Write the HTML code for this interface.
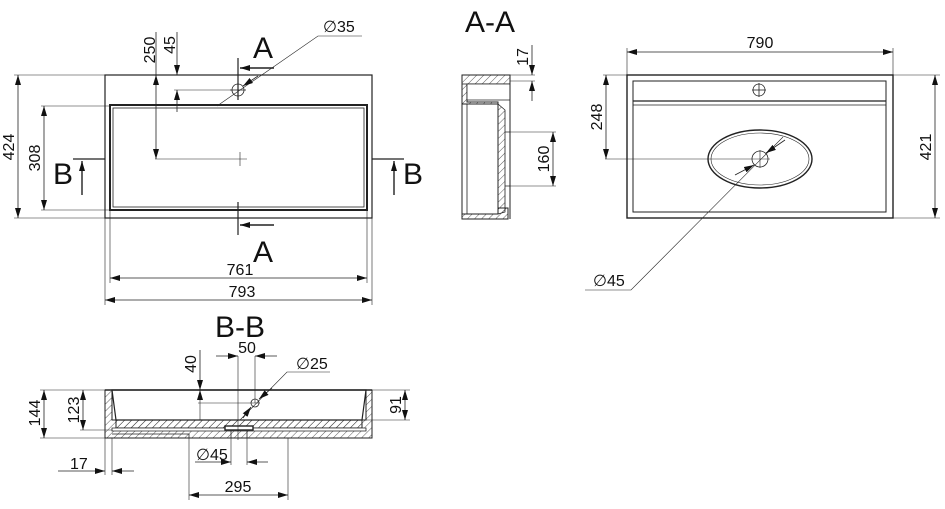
<!DOCTYPE html>
<html><head><meta charset="utf-8"><style>
html,body{margin:0;padding:0;background:#fff}
svg{display:block}
text{font-family:"Liberation Sans",sans-serif;fill:#111}
</style></head><body>
<svg width="945" height="509" viewBox="0 0 945 509" xmlns="http://www.w3.org/2000/svg">
<defs>
<pattern id="h" width="5" height="5" patternUnits="userSpaceOnUse" patternTransform="rotate(45)">
<line x1="0" y1="0" x2="0" y2="5" stroke="#333" stroke-width="0.8"/></pattern>
<marker id="a" viewBox="0 0 10 6" refX="10" refY="3" markerWidth="10" markerHeight="6" orient="auto-start-reverse" markerUnits="userSpaceOnUse">
<path d="M0,0 L10,3 L0,6 z" fill="#111"/></marker>
</defs>
<g stroke="#222" fill="none" stroke-width="0.8">
<rect x="105" y="75" width="267" height="143" stroke-width="1.2"/>
<rect x="110" y="105" width="257" height="105" stroke-width="2"/>
<rect x="113" y="108" width="251" height="99" stroke-width="0.8"/>
<circle cx="238" cy="90" r="6"/>
<line x1="230" y1="90" x2="246" y2="90"/><line x1="238" y1="82" x2="238" y2="98"/>
<line x1="155" y1="159" x2="247" y2="159" stroke-width="0.6"/>
<line x1="240" y1="152" x2="240" y2="166" stroke-width="0.6"/>
<line x1="14" y1="75" x2="105" y2="75" stroke-width="0.6"/>
<line x1="14" y1="218" x2="105" y2="218" stroke-width="0.6"/>
<line x1="18" y1="75" x2="18" y2="218" marker-start="url(#a)" marker-end="url(#a)"/>
<line x1="41" y1="106" x2="110" y2="106" stroke-width="0.6"/>
<line x1="41" y1="210" x2="110" y2="210" stroke-width="0.6"/>
<line x1="44" y1="106" x2="44" y2="210" marker-start="url(#a)" marker-end="url(#a)"/>
<line x1="156" y1="32" x2="156" y2="75"/>
<line x1="156" y1="75" x2="156" y2="159" marker-start="url(#a)" marker-end="url(#a)"/>
<line x1="177" y1="32" x2="177" y2="75" marker-end="url(#a)"/>
<line x1="177" y1="90" x2="177" y2="112" marker-start="url(#a)"/>
<line x1="174" y1="90" x2="232" y2="90" stroke-width="0.6"/>
<line x1="238" y1="58" x2="238" y2="100" stroke-width="1.2"/>
<line x1="274" y1="68" x2="240" y2="68" stroke-width="1.4" marker-end="url(#a)"/>
<line x1="238" y1="202" x2="238" y2="235" stroke-width="1.2"/>
<line x1="274" y1="225" x2="240" y2="225" stroke-width="1.4" marker-end="url(#a)"/>
<line x1="73" y1="159" x2="105" y2="159" stroke-width="1.2"/>
<line x1="82" y1="195" x2="82" y2="161" stroke-width="1.4" marker-end="url(#a)"/>
<line x1="372" y1="159" x2="404" y2="159" stroke-width="1.2"/>
<line x1="394" y1="195" x2="394" y2="161" stroke-width="1.4" marker-end="url(#a)"/>
<polyline points="217,106 318,36 362,36" stroke-width="0.6"/>
<line x1="258" y1="76" x2="243" y2="86" marker-end="url(#a)"/>
<line x1="110" y1="210" x2="110" y2="283" stroke-width="0.6"/>
<line x1="367" y1="210" x2="367" y2="283" stroke-width="0.6"/>
<line x1="105" y1="218" x2="105" y2="305" stroke-width="0.6"/>
<line x1="372" y1="218" x2="372" y2="305" stroke-width="0.6"/>
<line x1="110" y1="278" x2="367" y2="278" marker-start="url(#a)" marker-end="url(#a)"/>
<line x1="105" y1="300" x2="372" y2="300" marker-start="url(#a)" marker-end="url(#a)"/>

<path d="M462,75 H510 V84 H467 V102 H498 V208 H508 V219 H462 Z" fill="url(#h)" stroke-width="1"/>
<path d="M467,84 H510 V100 H467 Z" fill="#fff"/>
<path d="M462,104 L498,104 L498,214 L462,214 Z" fill="#fff" stroke-width="1"/>
<path d="M467,104 V214" />
<path d="M498,104 L505,110 L505,212 L498,214" fill="url(#h)"/>
<line x1="510" y1="75" x2="510" y2="219" stroke-width="1"/>
<path d="M505,132 H510 V186 H505" />
<line x1="462" y1="84" x2="467" y2="84"/>
<line x1="510" y1="75" x2="535" y2="75" stroke-width="0.6"/>
<line x1="510" y1="81" x2="535" y2="81" stroke-width="0.6"/>
<line x1="532" y1="45" x2="532" y2="75" marker-end="url(#a)"/>
<line x1="532" y1="81" x2="532" y2="101" marker-start="url(#a)"/>
<line x1="510" y1="132" x2="556" y2="132" stroke-width="0.6"/>
<line x1="510" y1="186" x2="556" y2="186" stroke-width="0.6"/>
<line x1="553" y1="132" x2="553" y2="186" marker-start="url(#a)" marker-end="url(#a)"/>

<rect x="627" y="75" width="266" height="143" stroke-width="1.4"/>
<rect x="633" y="81" width="253" height="131" stroke-width="1"/>
<line x1="633" y1="101" x2="886" y2="101" stroke-width="1.2"/>
<line x1="633" y1="105" x2="886" y2="105" stroke-width="0.8"/>
<circle cx="759" cy="90" r="6"/>
<line x1="752" y1="90" x2="766" y2="90"/><line x1="759" y1="83" x2="759" y2="97"/>
<ellipse cx="760" cy="159" rx="52" ry="29" stroke-width="1.4"/>
<ellipse cx="760" cy="159" rx="49" ry="26" stroke-width="0.6"/>
<circle cx="760" cy="159" r="8"/>
<line x1="605" y1="159" x2="770" y2="159" stroke-width="0.6"/>
<line x1="760" y1="150" x2="760" y2="168" stroke-width="0.6"/>
<line x1="627" y1="48" x2="627" y2="75" stroke-width="0.6"/>
<line x1="893" y1="48" x2="893" y2="75" stroke-width="0.6"/>
<line x1="627" y1="52" x2="893" y2="52" marker-start="url(#a)" marker-end="url(#a)"/>
<line x1="603" y1="75" x2="627" y2="75" stroke-width="0.6"/>
<line x1="606" y1="75" x2="606" y2="159" marker-start="url(#a)" marker-end="url(#a)"/>
<line x1="893" y1="75" x2="940" y2="75" stroke-width="0.6"/>
<line x1="893" y1="218" x2="940" y2="218" stroke-width="0.6"/>
<line x1="935" y1="75" x2="935" y2="218" marker-start="url(#a)" marker-end="url(#a)"/>
<polyline points="783,137 631,290 585,290" stroke-width="0.6"/>
<line x1="785" y1="140" x2="766" y2="153" marker-end="url(#a)"/>
<line x1="735" y1="175" x2="754" y2="165" marker-end="url(#a)"/>

<path d="M105,390 H112 V420 H366 V390 H372 V438 H105 Z" fill="url(#h)" stroke-width="1"/>
<path d="M112,390 H366 L362,420 H116 Z" fill="#fff" stroke-width="1.2"/>
<path d="M116,420 H362 V428 H116 Z" fill="url(#h)" stroke-width="1"/>
<path d="M112,428 H366 V431 H112 Z" fill="#fff" stroke-width="0.8"/>
<path d="M112,434 H189 V438" stroke-width="0.8"/>
<line x1="105" y1="390" x2="372" y2="390" stroke-width="1.4"/>
<rect x="225" y="426" width="28" height="4" fill="#fff" stroke-width="1.4"/>
<path d="M231,431 V438 M247,431 V438"/>
<circle cx="255" cy="403" r="4"/>
<line x1="198" y1="403" x2="260" y2="403" stroke-width="0.6"/>
<line x1="238" y1="356" x2="238" y2="440" stroke-width="0.6"/>
<line x1="255" y1="356" x2="255" y2="403" stroke-width="0.6"/>
<line x1="40" y1="390" x2="105" y2="390" stroke-width="0.6"/>
<line x1="40" y1="438" x2="105" y2="438" stroke-width="0.6"/>
<line x1="44" y1="390" x2="44" y2="438" marker-start="url(#a)" marker-end="url(#a)"/>
<line x1="80" y1="430" x2="112" y2="430" stroke-width="0.6"/>
<line x1="83" y1="390" x2="83" y2="430" marker-start="url(#a)" marker-end="url(#a)"/>
<line x1="372" y1="390" x2="410" y2="390" stroke-width="0.6"/>
<line x1="366" y1="420" x2="410" y2="420" stroke-width="0.6"/>
<line x1="405" y1="390" x2="405" y2="420" marker-start="url(#a)" marker-end="url(#a)"/>
<line x1="200" y1="350" x2="200" y2="390" marker-end="url(#a)"/>
<line x1="200" y1="390" x2="200" y2="420" marker-start="url(#a)" stroke-width="0.6"/>
<line x1="216" y1="356" x2="238" y2="356" marker-end="url(#a)"/>
<line x1="277" y1="356" x2="255" y2="356" marker-end="url(#a)"/>
<polyline points="240,420 287,372 330,372" stroke-width="0.6"/>
<line x1="272" y1="388" x2="259" y2="399" marker-end="url(#a)"/>
<line x1="243" y1="418" x2="251" y2="407" marker-end="url(#a)"/>
<line x1="105" y1="438" x2="105" y2="475" stroke-width="0.6"/>
<line x1="112" y1="438" x2="112" y2="475" stroke-width="0.6"/>
<line x1="58" y1="471" x2="105" y2="471" marker-end="url(#a)"/>
<line x1="134" y1="471" x2="112" y2="471" marker-end="url(#a)"/>
<line x1="189" y1="438" x2="189" y2="500" stroke-width="0.6"/>
<line x1="288" y1="438" x2="288" y2="500" stroke-width="0.6"/>
<line x1="231" y1="438" x2="231" y2="465" stroke-width="0.6"/>
<line x1="247" y1="438" x2="247" y2="465" stroke-width="0.6"/>
<line x1="195" y1="462" x2="231" y2="462" marker-end="url(#a)"/>
<line x1="268" y1="462" x2="247" y2="462" marker-end="url(#a)"/>
<line x1="189" y1="495" x2="288" y2="495" marker-start="url(#a)" marker-end="url(#a)"/>
</g>
<g font-size="16">
<text x="263" y="58" font-size="30" text-anchor="middle">A</text>
<text x="263" y="262" font-size="30" text-anchor="middle">A</text>
<text x="63" y="184" font-size="30" text-anchor="middle">B</text>
<text x="413" y="184" font-size="30" text-anchor="middle">B</text>
<text x="490" y="32" font-size="30" text-anchor="middle">A-A</text>
<text x="240" y="337" font-size="30" text-anchor="middle">B-B</text>
<text x="323" y="32">∅35</text>
<text x="240" y="275" text-anchor="middle">761</text>
<text x="242" y="297" text-anchor="middle">793</text>
<text transform="translate(14,147) rotate(-90)" text-anchor="middle">424</text>
<text transform="translate(40,158) rotate(-90)" text-anchor="middle">308</text>
<text transform="translate(155,50) rotate(-90)" text-anchor="middle">250</text>
<text transform="translate(175,45) rotate(-90)" text-anchor="middle">45</text>
<text transform="translate(528,57) rotate(-90)" text-anchor="middle">17</text>
<text transform="translate(549,159) rotate(-90)" text-anchor="middle">160</text>
<text x="760" y="48" text-anchor="middle">790</text>
<text transform="translate(602,117) rotate(-90)" text-anchor="middle">248</text>
<text transform="translate(931,147) rotate(-90)" text-anchor="middle">421</text>
<text x="593" y="286">∅45</text>
<text transform="translate(40,413) rotate(-90)" text-anchor="middle">144</text>
<text transform="translate(79,410) rotate(-90)" text-anchor="middle">123</text>
<text transform="translate(401,405) rotate(-90)" text-anchor="middle">91</text>
<text transform="translate(196,364) rotate(-90)" text-anchor="middle">40</text>
<text x="247" y="353" text-anchor="middle">50</text>
<text x="296" y="369">∅25</text>
<text x="70" y="469">17</text>
<text x="196" y="460">∅45</text>
<text x="238" y="492" text-anchor="middle">295</text>
</g>
</svg>
</body></html>
